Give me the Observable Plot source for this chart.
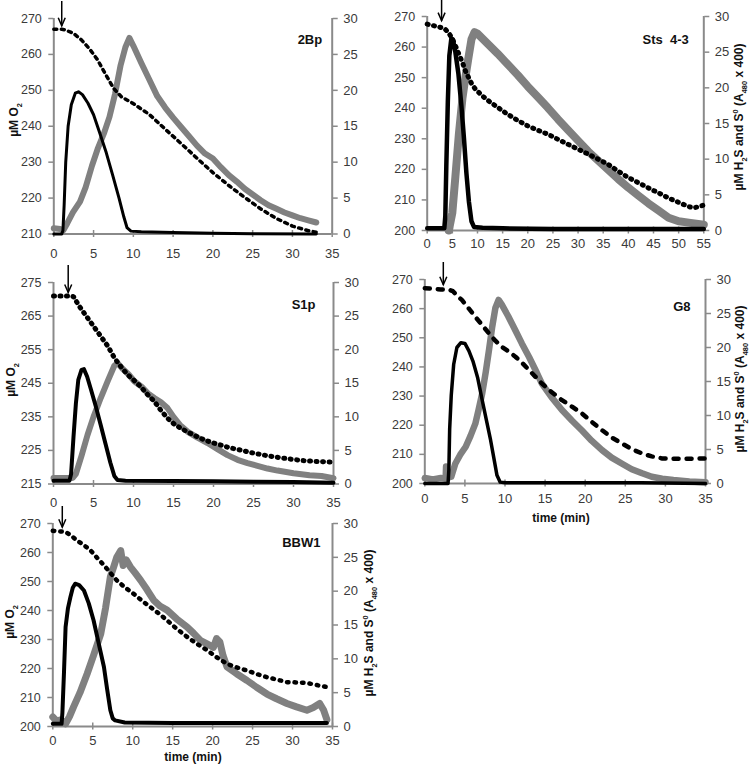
<!DOCTYPE html>
<html><head><meta charset="utf-8">
<script src="https://cdn.jsdelivr.net/npm/d3@7"></script>
<script src="https://cdn.jsdelivr.net/npm/@observablehq/plot@0.6"></script>
<style>
body{margin:0;background:#fff;}
#fig{position:relative;width:750px;height:769px;overflow:hidden;background:#fff;}
#fig svg{position:absolute;}
</style></head><body><div id="fig"></div>
<script>
// ---------- DATA (time in min, value) ----------
const xTicks35 = [0,5,10,15,20,25,30,35];
const xTicks55 = [0,5,10,15,20,25,30,35,40,45,50,55];
const rightTicks = [0,5,10,15,20,25,30];
const yTicks_2Bp = [210,220,230,240,250,260,270];
const yTicks_Sts = [200,210,220,230,240,250,260,270];
const yTicks_S1p = [215,225,235,245,255,265,275];
const yTicks_G8 = [200,210,220,230,240,250,260,270];
const yTicks_BBW1 = [200,210,220,230,240,250,260,270];
const titles = ["2Bp","Sts  4-3","S1p","G8","BBW1"];
const injection = [1.06, 2.96, 1.9, 2.37, 1.25];

// 2Bp
const o2_2Bp = [[0,267],[1,267],[1.5,266.8],[2.5,265.8],[3.5,264],[4.5,261.5],[5.5,258.5],[6.5,254.5],[7.5,250.6],[8.5,248.2],[10,246.3],[12,243.3],[14,239.2],[16,235.2],[18,231.1],[20,227.1],[22,223.5],[24,220.2],[26,217],[28,214.3],[30,212.2],[32,210.9],[33,210.5]];
const h2s_2Bp = [[0,0],[1,0],[1.15,0.5],[1.3,4],[1.5,10],[1.8,15],[2.2,18],[2.7,19.6],[3.1,19.8],[3.6,19.4],[4.3,18.2],[5,16.6],[5.8,14],[6.6,11.3],[7.4,8.2],[8.2,5],[8.8,2.4],[9.2,0.9],[9.7,0.4],[11,0.3],[15,0.2],[20,0.1],[25,0.05],[33,0]];
const s0_2Bp = [[0,0.8],[0.8,0.7],[1.2,0.5],[1.7,1.5],[2.4,3],[3.3,4.5],[4,6.5],[4.8,9.5],[5.5,11.8],[6.3,14],[7,16.3],[7.7,19.5],[8.4,23.5],[9,26],[9.5,27.3],[10,26.2],[11,23.8],[12,21.5],[13,19.2],[14,17.6],[15,16.2],[16,14.9],[17,13.6],[18,12.3],[19,11.2],[20,10.5],[21,9.3],[22,8.2],[23,7.3],[24,6.3],[25,5.5],[26,4.7],[27,4],[28,3.5],[29,3],[30,2.6],[31,2.2],[32,1.9],[33,1.6]];

// Sts 4-3
const o2_Sts = [[0,267.5],[1,267.1],[2,266.7],[3,266.3],[3.6,265.8],[4.2,264.8],[4.9,263],[5.6,260.5],[6.3,257.7],[7,255],[7.6,252.2],[8.3,249.8],[8.9,247.8],[9.6,246.2],[11,244],[12.2,242.4],[14,240.3],[16,238],[18,236],[20,234.2],[22,232.8],[24,231.5],[26,229.8],[28,228.2],[30,226.6],[32,225],[34,223.3],[36,221.6],[38,219.4],[40,217.3],[42,215.6],[44,213.9],[46,212.3],[48,210.6],[50,209.2],[52,207.8],[53,207.4],[54,207.8],[54.8,208.2]];
const h2s_Sts = [[0,0.3],[2,0.3],[3.4,0.3],[3.6,2],[3.8,9],[4.1,18],[4.4,24.5],[4.8,26.9],[5.1,26.8],[5.6,25],[6.2,22],[6.8,17.5],[7.3,13],[7.8,8],[8.3,4],[8.8,1.3],[9.3,0.5],[11,0.4],[15,0.3],[25,0.2],[40,0.2],[55,0.2]];
const s0_Sts = [[4.3,0],[5,2.5],[5.6,7.5],[6.3,13.5],[7,18.5],[7.6,21.5],[8.2,24.2],[8.8,26.8],[9.4,27.8],[10,27.6],[12,26.2],[14,24.8],[16,23.3],[18,21.8],[20,20.2],[22,18.7],[24,17.2],[26,15.6],[28,14.1],[30,12.6],[32,11.1],[34,9.8],[36,8.5],[38,7.2],[40,6],[42,4.9],[44,3.8],[46,2.8],[48,1.8],[50,1.3],[52,1.1],[55,0.8]];

// S1p
const o2_S1p = [[0,271],[1,271],[2,271],[2.5,270.8],[3.2,268],[4.25,264.5],[5,262],[5.9,259],[6.8,256],[7.6,252.6],[8.4,250],[9.25,247.6],[10.1,245.8],[10.9,244],[11.7,241.8],[12.6,239.6],[13.4,237],[14.25,234.6],[15,233],[15.9,231.6],[17,230.2],[18.4,228.6],[19.6,227.5],[20.9,226.6],[22,225.8],[23.4,225.1],[24.6,224.4],[25.9,223.8],[27,223.3],[28.4,222.8],[30,222.3],[31,222],[33,221.7],[35,221.5]];
const h2s_S1p = [[0,0.5],[2,0.5],[2.2,1.5],[2.5,7],[2.8,12],[3.1,15.5],[3.5,17],[3.8,17.1],[4.2,16],[4.7,14],[5.3,11.5],[5.9,8.8],[6.5,6],[7.1,3.2],[7.6,1.2],[8,0.6],[9,0.5],[15,0.45],[20,0.4],[25,0.35],[30,0.3],[35,0.2]];
const s0_S1p = [[0,0.9],[2.4,0.9],[2.8,1.5],[3.5,4.2],[4.25,7.3],[5,10],[5.9,12.8],[6.8,15.4],[7.6,17.6],[8,18],[8.6,17.2],[9.4,16.3],[10.1,15.3],[11,14.5],[11.8,13.5],[12.6,12.8],[13.4,12.2],[14.25,11.3],[15,10],[15.8,8.8],[16.75,7.8],[18,6.9],[19.25,6.1],[20.5,5.2],[21.75,4.3],[23,3.6],[24.25,3.1],[25.5,2.7],[26.75,2.3],[28,2],[30,1.6],[32,1.3],[33.5,1.2],[35,0.85]];

// G8
const o2_G8 = [[0,267],[1,266.8],[2,266.6],[3,266.5],[3.5,266],[4,264.5],[4.65,262.9],[5.5,260],[6.3,257.2],[7.2,254.2],[8,251.5],[8.8,249],[9.6,246.9],[10.5,245.2],[11.3,243.5],[12.2,241.2],[13,238.9],[13.8,236.6],[14.6,234.3],[15.8,231.4],[17.1,228.6],[18.4,226.3],[19.6,224],[20.8,221.2],[22.1,218.3],[23.3,215.8],[24.6,213.7],[25.8,211.8],[27.1,210.3],[28.3,209.3],[29.6,208.6],[31,208.5],[33,208.5],[35,208.6]];
const h2s_G8 = [[0,0],[2.9,0],[3,2],[3.1,8],[3.3,13],[3.6,17.5],[4,20],[4.5,20.7],[5,20.6],[5.5,19.5],[6,18],[6.6,15.5],[7.15,12.3],[7.7,9.2],[8.2,6.4],[8.6,3.8],[9,1.2],[9.4,0.2],[10,0.1],[20,0.1],[27,0.1],[35,0]];
const s0_G8 = [[0,0.8],[1,0.6],[2,0.8],[2.6,0.7],[2.65,2.5],[2.7,0.8],[3.3,1],[3.8,2.9],[4.4,4.2],[5.1,5.4],[5.7,7],[6.3,8.8],[6.7,10.8],[7.15,13.2],[7.6,16.4],[8,19.6],[8.4,23],[8.8,25.8],[9.2,27],[9.6,26.3],[10.4,24.6],[11.3,22.5],[12.1,20.6],[13,18.6],[13.8,16.7],[14.6,14.7],[15.8,12.7],[17.1,10.8],[18.4,9.2],[19.6,7.8],[20.8,6.3],[22.1,4.9],[23.3,3.8],[24.6,2.9],[25.8,2.1],[27.1,1.5],[28.3,1],[29.6,0.7],[31,0.5],[33,0.3],[35,0.2]];

// BBW1
const o2_BBW1 = [[0,267.5],[0.8,267.3],[1.6,267.1],[2.3,265.8],[3,264.2],[3.9,262.5],[4.7,260.8],[5.5,258.3],[6.4,255.6],[7.2,253],[8,250.4],[9,248],[10.1,245.8],[11.1,243.5],[12.2,241.2],[13.3,238.9],[14.3,236.6],[15.5,233.7],[16.8,230.9],[18,228.6],[19.3,226.3],[20.5,223.9],[21.8,221.6],[23,220.4],[24.3,219.3],[25.5,218.1],[26.8,217],[28,216.2],[29.3,215.3],[30.5,215.2],[31.8,215],[33,214.3],[34.3,213.6]];
const h2s_BBW1 = [[0,0.4],[1.1,0.4],[1.2,2],[1.4,8],[1.6,14.7],[1.9,17.5],[2.2,19.1],[2.5,20.5],[2.8,21.1],[3.3,20.9],[3.9,20.1],[4.5,18.2],[5.1,15.7],[5.7,12.5],[6.4,8.8],[6.8,5.5],[7.2,2.4],[7.5,1.2],[7.8,0.9],[9,0.6],[15,0.5],[20,0.5],[25,0.5],[30,0.5],[34.3,0.5]];
const s0_BBW1 = [[0,1.4],[0.5,0.8],[1,1],[1.6,0.4],[2.1,1.5],[2.6,2.9],[3.4,5],[4.3,7.8],[5.1,10.5],[6,13.7],[6.6,17.5],[7.2,22.1],[7.6,23.5],[8,25],[8.5,26],[8.8,23.8],[9.2,24.6],[9.7,23.6],[10.3,22.7],[11,21.6],[11.8,20.2],[12.6,18.7],[13.4,17.8],[14.3,17.2],[15.5,15.9],[16.8,14.7],[17.6,13.8],[18.5,12.7],[19.3,12.2],[20.1,11.7],[20.5,13],[20.9,12.5],[21.3,10.5],[21.8,8.8],[23,7.8],[24.3,6.8],[25.5,5.8],[26.8,4.8],[28,4.1],[29.3,3.4],[30.5,2.9],[31.8,2.4],[32.6,2.8],[33.4,3.4],[33.9,2.4],[34.3,1]];

// ---------- LAYOUT / STYLE ----------
const GREY_AX = "#8a8a8a", GREY_S0 = "#808080", TXT = "#3a3a3a";
const FONT = "'Liberation Sans', Arial, sans-serif";

const panels = [
  {title: titles[0], inj: injection[0], o2: o2_2Bp, h2s: h2s_2Bp, s0: s0_2Bp, xMax: 35, xTicks: xTicks35, yDom: [210,270], yTicks: yTicks_2Bp,
   box: {left:0, top:0, width:375, height:262, ml:53.3, mr:43.3, mt:18, mb:28.5}, xPad: 15,
   tdx: -10, tdy: 16, o2w: 3.5, o2dash: "3,4.5", h2sw: 3, s0w: 6,
   leftLab: [14,120], rightLab: null, xLab: null},
  {title: titles[1], inj: injection[1], o2: o2_Sts, h2s: h2s_Sts, s0: s0_Sts, xMax: 55, xTicks: xTicks55, yDom: [200,270], yTicks: yTicks_Sts,
   box: {left:375, top:0, width:375, height:262, ml:51.7, mr:46.7, mt:16, mb:32}, xPad: 8,
   tdx: -15, tdy: 18, o2w: 5, o2dash: "1,5.5", h2sw: 4.5, s0w: 8,
   leftLab: null, rightLab: [739,117], xLab: null},
  {title: titles[2], inj: injection[2], o2: o2_S1p, h2s: h2s_S1p, s0: s0_S1p, xMax: 35, xTicks: xTicks35, yDom: [215,275], yTicks: yTicks_S1p,
   box: {left:0, top:250, width:375, height:262, ml:53, mr:42, mt:32, mb:28.5}, xPad: 13.5,
   tdx: -18, tdy: 17, o2w: 5, o2dash: "1,5.5", h2sw: 4, s0w: 6,
   leftLab: [11,380], rightLab: null, xLab: null},
  {title: titles[3], inj: injection[3], o2: o2_G8, h2s: h2s_G8, s0: s0_G8, xMax: 35, xTicks: xTicks35, yDom: [200,270], yTicks: yTicks_G8,
   box: {left:375, top:250, width:375, height:274, ml:49.3, mr:45, mt:29, mb:41}, xPad: 10,
   tdx: -15, tdy: 22, o2w: 4.5, o2dash: "5,8", h2sw: 3.5, s0w: 6.5,
   leftLab: null, rightLab: [740,379], xLab: [561,518]},
  {title: titles[4], inj: injection[4], o2: o2_BBW1, h2s: h2s_BBW1, s0: s0_BBW1, xMax: 35, xTicks: xTicks35, yDom: [200,270], yTicks: yTicks_BBW1,
   box: {left:0, top:490, width:375, height:279, ml:52.3, mr:43, mt:33, mb:43}, xPad: 9,
   tdx: -12, tdy: 14, o2w: 4.5, o2dash: "1.5,6", h2sw: 4, s0w: 7,
   leftLab: [10,622], rightLab: [369,623], xLab: [193,757]}
];

const fig = document.getElementById("fig");

function addRichText(svg, x, y, rotate, parts, size) {
  const t = d3.select(svg).append("text")
    .attr("transform", `translate(${x},${y}) rotate(${rotate})`)
    .attr("text-anchor", "middle").attr("dy", "0.35em")
    .attr("font-family", FONT).attr("font-weight", "bold")
    .attr("font-size", size).attr("fill", "#111");
  for (const [s, kind] of parts) {
    const sp = t.append("tspan").text(s);
    if (kind === "sub") sp.attr("font-size", size * 0.62).attr("dy", size * 0.28);
    else if (kind === "sup") sp.attr("font-size", size * 0.62).attr("dy", -size * 0.4);
    else if (kind === "back-sub") sp.attr("dy", -size * 0.28);
    else if (kind === "back-sup") sp.attr("dy", size * 0.4);
  }
}

for (const p of panels) {
  const [yMin, yMax] = p.yDom;
  const k = (yMax - yMin) / 30;            // right-axis unit -> left-axis unit
  const toL = v => yMin + v * k;
  const b = p.box;
  const plotH = b.height - b.mt - b.mb;
  const chart = Plot.plot({
    width: b.width, height: b.height,
    marginLeft: b.ml, marginRight: b.mr, marginTop: b.mt, marginBottom: b.mb,
    style: {background: "transparent", overflow: "visible", fontFamily: FONT},
    x: {domain: [0, p.xMax]},
    y: {domain: [yMin, yMax]},
    marks: [
      Plot.ruleX([0], {stroke: GREY_AX, strokeWidth: 2}),
      Plot.ruleX([p.xMax], {stroke: GREY_AX, strokeWidth: 2}),
      Plot.ruleY([yMin], {stroke: GREY_AX, strokeWidth: 2}),
      Plot.ruleX(p.xTicks, {x: d => d, insetTop: plotH - 3.5, insetBottom: -3.5, stroke: GREY_AX, strokeWidth: 1.5}),
      Plot.axisY({anchor: "left", ticks: p.yTicks, tickSize: 5, tickPadding: 7, stroke: GREY_AX, strokeWidth: 1.5, fill: TXT, fontSize: 12.5, label: null}),
      Plot.axisY({anchor: "right", ticks: rightTicks.map(toL), tickFormat: d => String(Math.round((d - yMin) / k)),
                  tickSize: 5, tickPadding: 6, stroke: GREY_AX, strokeWidth: 1.5, fill: TXT, fontSize: 13, label: null}),
      Plot.axisX({ticks: p.xTicks, tickSize: 0, tickPadding: p.xPad, fill: TXT, fontSize: 13, label: null}),
      Plot.line(p.s0, {x: d => d[0], y: d => toL(d[1]), stroke: GREY_S0, strokeWidth: p.s0w, strokeLinejoin: "round"}),
      Plot.line(p.h2s, {x: d => d[0], y: d => toL(d[1]), stroke: "#000", strokeWidth: p.h2sw, strokeLinejoin: "round"}),
      Plot.line(p.o2, {x: d => d[0], y: d => d[1], stroke: "#000", strokeWidth: p.o2w, strokeDasharray: p.o2dash, strokeLinecap: "round", strokeLinejoin: "round"}),
      Plot.text([p.title], {text: d => d, frameAnchor: "top-right", textAnchor: "end", dx: p.tdx, dy: p.tdy, fontWeight: "bold", fontSize: 13, fill: "#111"})
    ]
  });
  chart.style.left = b.left + "px";
  chart.style.top = b.top + "px";
  fig.appendChild(chart);

  // injection arrow, positioned with the chart's own scales
  const sx = chart.scale("x"), sy = chart.scale("y");
  const ax = sx.apply(p.inj);
  const yTop = sy.apply(yMax) - 17;
  const yTip = sy.apply(p.o2[0][1]) - 3;
  const g = d3.select(chart).append("g").attr("stroke", "#000").attr("fill", "none").attr("stroke-width", 1.5);
  g.append("line").attr("x1", ax).attr("x2", ax).attr("y1", yTop).attr("y2", yTip);
  g.append("path").attr("d", `M${ax-3.5},${yTip-8}L${ax},${yTip}L${ax+3.5},${yTip-8}`);

  const L = b.left, T = b.top;
  if (p.leftLab) addRichText(chart, p.leftLab[0] - L, p.leftLab[1] - T, -90,
    [["µM O", null], ["2", "sub"]], 12);
  if (p.rightLab) addRichText(chart, p.rightLab[0] - L, p.rightLab[1] - T, -90,
    [["µM H", null], ["2", "sub"], ["S and S", "back-sub"], ["0", "sup"], [" (A", "back-sup"], ["480", "sub"], [" x 400)", "back-sub"]], 12);
  if (p.xLab) addRichText(chart, p.xLab[0] - L, p.xLab[1] - T, 0, [["time (min)", null]], 12);
}
</script></body></html>
